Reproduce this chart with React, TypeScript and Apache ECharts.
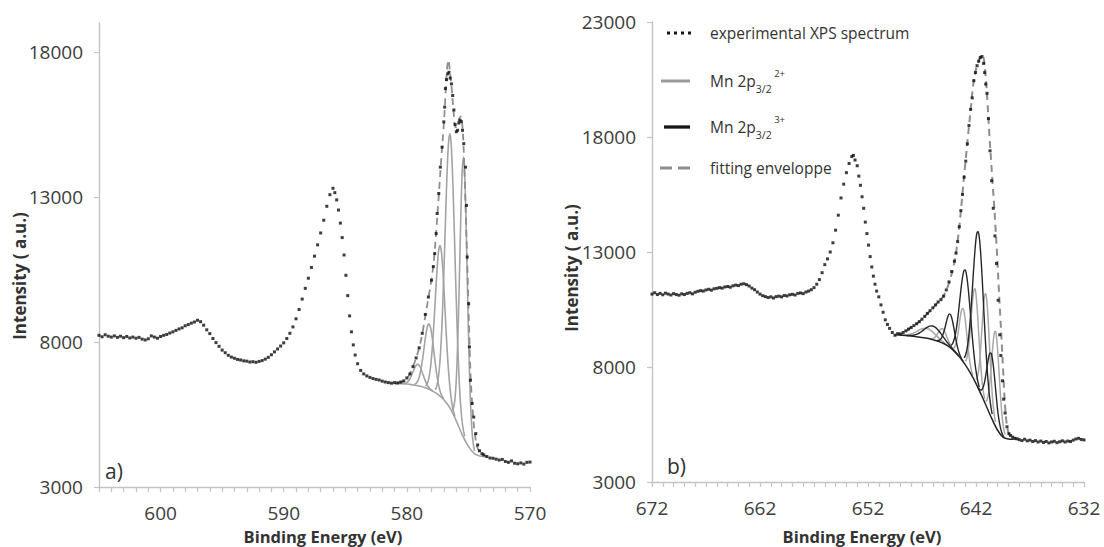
import React, { useEffect, useRef } from "react";
import * as echarts from "echarts";

type Pt = [number, number];
const FONT = "'Open Sans', 'DejaVu Sans', sans-serif";

// ---------- panel a) : Mn 2p, 605 -> 570 eV ----------
const xLabelsA = [570, 580, 590, 600];
const yLabelsA = [3000, 8000, 13000, 18000];

const specA: Pt[] = [
  [605, 8230], [604.75, 8180], [604.5, 8250], [604.25, 8200], [604, 8170], [603.75, 8210], [603.5, 8160],
  [603.25, 8200], [603, 8150], [602.75, 8190], [602.5, 8140], [602.25, 8170], [602, 8130], [601.75, 8160],
  [601.5, 8100], [601.25, 8070], [601, 8110], [600.75, 8210], [600.5, 8170], [600.25, 8130], [600, 8190],
  [599.75, 8230], [599.5, 8260], [599.25, 8310], [599, 8350], [598.75, 8400], [598.5, 8450], [598.25, 8490],
  [598, 8560], [597.75, 8600], [597.5, 8650], [597.25, 8690], [597, 8750], [596.75, 8700], [596.5, 8580],
  [596.25, 8420], [596, 8290], [595.75, 8120], [595.5, 7980], [595.25, 7850], [595, 7720], [594.75, 7630],
  [594.5, 7540], [594.25, 7480], [594, 7440], [593.75, 7400], [593.5, 7380], [593.25, 7350], [593, 7340],
  [592.75, 7310], [592.5, 7320], [592.25, 7300], [592, 7330], [591.75, 7360], [591.5, 7410], [591.25, 7470],
  [591, 7560], [590.75, 7660], [590.5, 7760], [590.25, 7860], [590, 7970], [589.75, 8120], [589.5, 8300],
  [589.25, 8520], [589, 8800], [588.75, 9120], [588.5, 9480], [588.25, 9850], [588, 10200], [587.75, 10570],
  [587.5, 10960], [587.25, 11350], [587, 11760], [586.75, 12200], [586.5, 12680], [586.25, 13080], [586, 13300],
  [585.85, 13150], [585.7, 12900], [585.55, 12550], [585.4, 12100], [585.25, 11600], [585.1, 11000],
  [584.95, 10300], [584.8, 9600], [584.65, 8900], [584.5, 8350], [584.35, 7900], [584.2, 7550], [584, 7250],
  [583.75, 7020], [583.5, 6900], [583.25, 6830], [583, 6780], [582.75, 6740], [582.5, 6710], [582.25, 6690],
  [582, 6650], [581.75, 6620], [581.5, 6600], [581.25, 6580], [581, 6600], [580.75, 6590], [580.5, 6620],
  [580.25, 6660], [580, 6760], [579.75, 6900], [579.5, 7150], [579.25, 7450], [579, 7800], [578.75, 8300],
  [578.5, 8950], [578.25, 9550], [578, 10130], [577.85, 10600], [577.74, 11050], [577.62, 11740],
  [577.54, 12430], [577.41, 13120], [577.28, 14030], [577.14, 14720], [577, 15590], [576.93, 16100],
  [576.87, 16740], [576.78, 17050], [576.68, 17250], [576.58, 17300], [576.48, 17100], [576.38, 16900],
  [576.28, 16500], [576.18, 16000], [576.08, 15500], [575.98, 15250], [575.88, 15300], [575.78, 15550],
  [575.68, 15650], [575.58, 15600], [575.48, 15300], [575.38, 14840], [575.24, 14030], [575.16, 12710],
  [575.1, 10930], [574.98, 9320], [574.92, 7830], [574.84, 6680], [574.7, 5880], [574.57, 5410], [574.4, 4840],
  [574.25, 4450], [574.1, 4250], [573.9, 4150], [573.75, 4110], [573.5, 4050], [573.25, 4000], [573, 3990],
  [572.75, 3960], [572.5, 3930], [572.25, 3950], [572, 3880], [571.75, 3850], [571.5, 3900], [571.25, 3820],
  [571, 3800], [570.75, 3830], [570.5, 3790], [570.25, 3850], [570, 3860],
];

const bgA: Pt[] = [
  [581, 6560], [580.5, 6560], [580, 6550], [579.5, 6520], [579, 6480], [578.5, 6420], [578, 6330],
  [577.5, 6200], [577, 6010], [576.5, 5730], [576, 5290], [575.5, 4800], [575, 4400], [574.5, 4140],
  [574, 4060], [573.5, 4050],
];

const compA1: Pt[] = [
  [580.3, 6564], [580.2, 6571], [580.1, 6584], [580, 6609], [579.9, 6644], [579.8, 6698], [579.7, 6772],
  [579.6, 6865], [579.5, 6969], [579.4, 7071], [579.3, 7157], [579.2, 7213], [579.1, 7228], [579, 7197],
  [578.9, 7121], [578.8, 7015], [578.7, 6893], [578.6, 6771], [578.5, 6660], [578.4, 6562], [578.3, 6484],
  [578.2, 6425], [578.1, 6380], [578, 6347], [577.9, 6312],
];
const compA2: Pt[] = [
  [579.4, 6537], [579.3, 6556], [579.2, 6595], [579.1, 6668], [579, 6786], [578.9, 6957], [578.8, 7190],
  [578.7, 7479], [578.6, 7803], [578.5, 8126], [578.4, 8396], [578.3, 8574], [578.2, 8626], [578.1, 8538],
  [578, 8324], [577.9, 8010], [577.8, 7649], [577.7, 7287], [577.6, 6960], [577.5, 6689], [577.4, 6468],
  [577.3, 6304], [577.2, 6185], [577.1, 6100], [577, 6035],
];
const compA3: Pt[] = [
  [578.5, 6478], [578.4, 6521], [578.3, 6612], [578.2, 6780], [578.1, 7052], [578, 7455], [577.9, 7992],
  [577.8, 8659], [577.7, 9406], [577.6, 10151], [577.5, 10789], [577.4, 11201], [577.3, 11324], [577.2, 11125],
  [577.1, 10637], [577, 9935], [576.9, 9108], [576.8, 8279], [576.7, 7530], [576.6, 6911], [576.5, 6434],
  [576.4, 6056], [576.3, 5782], [576.2, 5585], [576.1, 5436],
];
const compA4: Pt[] = [
  [577.7, 6357], [577.6, 6442], [577.5, 6615], [577.4, 6915], [577.3, 7404], [577.2, 8132], [577.1, 9120],
  [577, 10341], [576.9, 11691], [576.8, 13038], [576.7, 14190], [576.6, 14953], [576.5, 15190], [576.4, 14809],
  [576.3, 13902], [576.2, 12606], [576.1, 11115], [576, 9621], [575.9, 8264], [575.8, 7140], [575.7, 6276],
  [575.6, 5651], [575.5, 5215], [575.4, 4936], [575.3, 4745],
];
const compA5: Pt[] = [
  [576.3, 5661], [576.2, 5742], [576.1, 6013], [576, 6597], [575.9, 7601], [575.8, 9065], [575.7, 10855],
  [575.6, 12633], [575.5, 13938], [575.4, 14380], [575.3, 13778], [575.2, 12295], [575.1, 10339], [575, 8371],
  [574.9, 6757], [574.8, 5603], [574.7, 4879], [574.6, 4468], [574.5, 4247],
];
const envA: Pt[] = [
  [580.75, 6590], [580.5, 6610], [580.25, 6650], [580, 6740], [579.75, 6900], [579.5, 7150], [579.25, 7450],
  [579, 7800], [578.75, 8280], [578.5, 8900], [578.25, 9520], [578, 10150], [577.8, 10850], [577.6, 11900],
  [577.4, 13100], [577.2, 14350], [577, 15500], [576.85, 16600], [576.72, 17500], [576.62, 17730],
  [576.5, 17300], [576.35, 16700], [576.2, 15900], [576.05, 15400], [575.9, 15450], [575.75, 15700],
  [575.6, 15780], [575.5, 15500], [575.4, 14800], [575.3, 13600], [575.2, 12200], [575.1, 10800], [575, 9300],
  [574.9, 7800], [574.8, 6600], [574.65, 5600], [574.5, 4900], [574.3, 4400], [574.1, 4200], [573.9, 4100],
  [573.5, 4050],
];

// ---------- panel b) : 672 -> 632 eV ----------
const xLabelsB = [632, 642, 652, 662, 672];
const yLabelsB = [3000, 8000, 13000, 18000, 23000];

const specB: Pt[] = [
  [672, 11170], [671.75, 11230], [671.5, 11150], [671.25, 11200], [671, 11140], [670.75, 11210], [670.5, 11170],
  [670.25, 11130], [670, 11190], [669.75, 11150], [669.5, 11120], [669.25, 11180], [669, 11150], [668.75, 11200],
  [668.5, 11230], [668.25, 11180], [668, 11250], [667.75, 11290], [667.5, 11320], [667.25, 11300], [667, 11350],
  [666.75, 11380], [666.5, 11340], [666.25, 11400], [666, 11420], [665.75, 11450], [665.5, 11430],
  [665.25, 11480], [665, 11500], [664.75, 11470], [664.5, 11530], [664.25, 11560], [664, 11540],
  [663.75, 11600], [663.5, 11620], [663.25, 11580], [663, 11520], [662.75, 11430], [662.5, 11360],
  [662.25, 11260], [662, 11170], [661.75, 11100], [661.5, 11060], [661.25, 11020], [661, 11050],
  [660.75, 11000], [660.5, 11060], [660.25, 11080], [660, 11050], [659.75, 11110], [659.5, 11090],
  [659.25, 11140], [659, 11160], [658.75, 11130], [658.5, 11200], [658.25, 11220], [658, 11190],
  [657.75, 11260], [657.5, 11300], [657.25, 11360], [657, 11450], [656.75, 11600], [656.5, 11800],
  [656.25, 12100], [656, 12450], [655.75, 12700], [655.5, 13000], [655.25, 13400], [655, 13950],
  [654.75, 14600], [654.5, 15350], [654.25, 15950], [654, 16450], [653.75, 16850], [653.5, 17150],
  [653.35, 17200], [653.2, 17000], [653, 16750], [652.85, 16300], [652.7, 15900], [652.55, 15400],
  [652.4, 14900], [652.25, 14300], [652.1, 13800], [651.95, 13300], [651.8, 12800], [651.65, 12350],
  [651.5, 11950], [651.35, 11600], [651.2, 11300], [651, 11050], [650.8, 10700], [650.6, 10380],
  [650.4, 10050], [650.2, 9850], [650, 9680], [649.75, 9500], [649.5, 9380], [649.25, 9450], [649, 9440],
  [648.75, 9500], [648.5, 9570], [648.25, 9650], [648, 9720], [647.75, 9800], [647.5, 9880], [647.25, 9970],
  [647, 10080], [646.75, 10200], [646.5, 10330], [646.25, 10450], [646, 10570], [645.75, 10700],
  [645.5, 10830], [645.25, 10930], [645, 11080], [644.75, 11350], [644.5, 11700], [644.25, 12150],
  [644, 12600], [643.85, 12950], [643.7, 13450], [643.55, 14100], [643.4, 14800], [643.25, 15500],
  [643.1, 16250], [642.95, 16950], [642.8, 17700], [642.65, 18500], [642.5, 19200], [642.35, 19700],
  [642.2, 20450], [642.05, 20800], [641.9, 21100], [641.75, 21300], [641.6, 21450], [641.45, 21500],
  [641.3, 21200], [641.2, 20800], [641.1, 20300], [640.98, 19900], [640.85, 18800], [640.7, 17400],
  [640.55, 16100], [640.4, 14900], [640.25, 13700], [640.1, 12500], [639.95, 10900], [639.8, 9400],
  [639.7, 8500], [639.55, 7400], [639.44, 6600], [639.3, 6000], [639.13, 5400], [638.95, 5100], [638.8, 5020],
  [638.6, 4950], [638.4, 4900], [638.2, 4880], [638, 4840], [637.75, 4800], [637.5, 4860], [637.25, 4790],
  [637, 4820], [636.75, 4760], [636.5, 4800], [636.25, 4740], [636, 4780], [635.75, 4720], [635.5, 4760],
  [635.25, 4700], [635, 4740], [634.75, 4770], [634.5, 4710], [634.25, 4750], [634, 4790], [633.75, 4740],
  [633.5, 4780], [633.25, 4760], [633, 4820], [632.75, 4870], [632.5, 4900], [632.25, 4850], [632, 4830],
];

const bgB: Pt[] = [
  [649.5, 9400], [649, 9385], [648.5, 9370], [648, 9345], [647.5, 9320], [647, 9285], [646.5, 9250],
  [646, 9190], [645.5, 9120], [645, 9020], [644.5, 8880], [644, 8680], [643.5, 8420], [643, 8100],
  [642.5, 7720], [642, 7280], [641.5, 6780], [641, 6250], [640.5, 5720], [640, 5250], [639.5, 4950],
  [639, 4870], [638.5, 4860],
];

// Mn 2p3/2 2+ components (grey)
const grayB1: Pt[] = [
  [649, 9390], [648.8, 9389], [648.6, 9392], [648.4, 9399], [648.2, 9413], [648, 9438], [647.8, 9475],
  [647.6, 9522], [647.4, 9574], [647.2, 9624], [647, 9664], [646.8, 9688], [646.6, 9687], [646.4, 9655],
  [646.2, 9593], [646, 9515], [645.8, 9423], [645.6, 9331], [645.4, 9240], [645.2, 9153], [645, 9078],
  [644.8, 8998], [644.6, 8927], [644.4, 8850], [644.2, 8765],
];
const grayB2: Pt[] = [
  [646.3, 9233], [646.2, 9228], [646.1, 9229], [646, 9239], [645.9, 9260], [645.8, 9296], [645.7, 9349],
  [645.6, 9418], [645.5, 9496], [645.4, 9568], [645.3, 9627], [645.2, 9661], [645.1, 9660], [645, 9621],
  [644.9, 9539], [644.8, 9432], [644.7, 9312], [644.6, 9192], [644.5, 9081], [644.4, 8974], [644.3, 8884],
  [644.2, 8809], [644.1, 8747], [644, 8694], [643.9, 8635],
];
const grayB3: Pt[] = [
  [644.1, 8806], [644, 8849], [643.9, 8941], [643.8, 9110], [643.7, 9359], [643.6, 9678], [643.5, 10028],
  [643.4, 10326], [643.3, 10519], [643.2, 10548], [643.1, 10391], [643, 10070], [642.9, 9632], [642.8, 9154],
  [642.7, 8707], [642.6, 8330], [642.5, 8033], [642.4, 7801], [642.3, 7630],
];
const grayB4: Pt[] = [
  [643, 8248], [642.9, 8318], [642.8, 8493], [642.7, 8799], [642.6, 9247], [642.5, 9816], [642.4, 10425],
  [642.3, 10966], [642.2, 11325], [642.1, 11398], [642, 11149], [641.9, 10602], [641.8, 9873], [641.7, 9076],
  [641.6, 8331], [641.5, 7707], [641.4, 7219], [641.3, 6862], [641.2, 6610],
];
const grayB5: Pt[] = [
  [642, 7458], [641.9, 7533], [641.8, 7733], [641.7, 8093], [641.6, 8622], [641.5, 9297], [641.4, 10028],
  [641.3, 10677], [641.2, 11108], [641.1, 11196], [641, 10896], [640.9, 10253], [640.8, 9392], [640.7, 8449],
  [640.6, 7568], [640.5, 6833], [640.4, 6279], [640.3, 5885], [640.2, 5616],
];
const grayB6: Pt[] = [
  [641.1, 6507], [641, 6552], [640.9, 6700], [640.8, 6986], [640.7, 7415], [640.6, 7970], [640.5, 8575],
  [640.4, 9125], [640.3, 9487], [640.2, 9558], [640.1, 9299], [640, 8749], [639.9, 8045], [639.8, 7274],
  [639.7, 6553], [639.6, 5958], [639.5, 5506], [639.4, 5236], [639.3, 5069],
];

// Mn 2p3/2 3+ components (black)
const blackB1: Pt[] = [
  [648.4, 9372], [648.2, 9368], [648, 9371], [647.8, 9382], [647.6, 9405], [647.4, 9441], [647.2, 9491],
  [647, 9555], [646.8, 9629], [646.6, 9702], [646.4, 9759], [646.2, 9786], [646, 9780], [645.8, 9734],
  [645.6, 9655], [645.4, 9545], [645.2, 9418], [645, 9290], [644.8, 9156], [644.6, 9036], [644.4, 8920],
  [644.2, 8807], [644, 8706], [643.8, 8589], [643.6, 8479],
];
const blackB2: Pt[] = [
  [645.6, 9150], [645.5, 9153], [645.4, 9164], [645.3, 9196], [645.2, 9258], [645.1, 9356], [645, 9494],
  [644.9, 9660], [644.8, 9849], [644.7, 10038], [644.6, 10196], [644.5, 10295], [644.4, 10300], [644.3, 10215],
  [644.2, 10048], [644.1, 9822], [644, 9565], [643.9, 9296], [643.8, 9050], [643.7, 8840], [643.6, 8670],
  [643.5, 8536], [643.4, 8420], [643.3, 8325], [643.2, 8244],
];
const blackB3: Pt[] = [
  [644.3, 8940], [644.2, 8991], [644.1, 9086], [644, 9237], [643.9, 9443], [643.8, 9721], [643.7, 10070],
  [643.6, 10478], [643.5, 10919], [643.4, 11348], [643.3, 11733], [643.2, 12031], [643.1, 12202], [643, 12220],
  [642.9, 12062], [642.8, 11751], [642.7, 11313], [642.6, 10788], [642.5, 10219], [642.4, 9638], [642.3, 9090],
  [642.2, 8601], [642.1, 8183], [642, 7837], [641.9, 7546], [641.8, 7311], [641.7, 7120],
];
const blackB4: Pt[] = [
  [643.1, 8395], [643, 8481], [642.9, 8629], [642.8, 8868], [642.7, 9218], [642.6, 9686], [642.5, 10272],
  [642.4, 10942], [642.3, 11668], [642.2, 12393], [642.1, 13048], [642, 13557], [641.9, 13845], [641.8, 13880],
  [641.7, 13645], [641.6, 13157], [641.5, 12460], [641.4, 11611], [641.3, 10692], [641.2, 9772], [641.1, 8908],
  [641, 8140], [640.9, 7490], [640.8, 6958], [640.7, 6537], [640.6, 6207], [640.5, 5951],
];
const blackB5: Pt[] = [
  [641.8, 7111], [641.7, 7043], [641.6, 7002], [641.5, 7000], [641.4, 7049], [641.3, 7167], [641.2, 7361],
  [641.1, 7624], [641, 7930], [640.9, 8235], [640.8, 8483], [640.7, 8616], [640.6, 8596], [640.5, 8404],
  [640.4, 8071], [640.3, 7623], [640.2, 7118], [640.1, 6612], [640, 6149], [639.9, 5789], [639.8, 5505],
  [639.7, 5290], [639.6, 5132], [639.5, 5013], [639.4, 4965],
];
const envB: Pt[] = [
  [649.5, 9400], [649, 9420], [648.5, 9550], [648, 9720], [647.5, 9880], [647, 10080], [646.5, 10320],
  [646, 10560], [645.5, 10820], [645, 11100], [644.5, 11650], [644, 12550], [643.75, 13300], [643.5, 14300],
  [643.25, 15550], [643, 16800], [642.75, 18000], [642.5, 19150], [642.25, 20300], [642, 20950],
  [641.75, 21300], [641.5, 21570], [641.3, 21450], [641.1, 20600], [640.95, 19600], [640.75, 18000],
  [640.6, 16950], [640.45, 15900], [640.3, 14900], [640.2, 14100], [640.05, 12900], [639.9, 11500],
  [639.75, 10200], [639.6, 8900], [639.45, 7500], [639.35, 6600], [639.2, 5700], [639, 5150], [638.7, 4930],
  [638.3, 4860],
];

const legendTexts = ["experimental XPS spectrum", "Mn 2p", "3/2", "2+", "3+", "fitting enveloppe"];

export default function App() {
  const ref = useRef<HTMLDivElement>(null);

  useEffect(() => {
    if (!ref.current) return;
    const chart = echarts.init(ref.current, null, { renderer: "svg" });
    const axisColor = "#c4c4c4";
    const labelColor = "#3c3c3c";

    const xAxis = (gi: number, min: number, max: number, labels: number[]) => ({
      type: "value",
      gridIndex: gi,
      min,
      max,
      interval: 1,
      inverse: true,
      axisLine: { show: true, onZero: false, lineStyle: { color: axisColor, width: 1.4 } },
      axisTick: { show: true, length: 5, lineStyle: { color: axisColor, width: 1.2 } },
      axisLabel: {
        formatter: (v: number) => (labels.indexOf(Math.round(v)) >= 0 ? String(Math.round(v)) : ""),
        fontSize: 19,
        color: labelColor,
        fontFamily: FONT,
        margin: 16,
      },
      splitLine: { show: false },
    });
    const yAxis = (gi: number, min: number, max: number, labels: number[]) => ({
      type: "value",
      gridIndex: gi,
      min,
      max,
      interval: 5000,
      axisLine: { show: true, onZero: false, lineStyle: { color: axisColor, width: 1.4 } },
      axisTick: { show: true, length: 5, customValues: labels, lineStyle: { color: axisColor, width: 1.2 } },
      axisLabel: {
        customValues: labels,
        formatter: (v: number) => (labels.indexOf(v) >= 0 ? String(v) : ""),
        fontSize: 19,
        color: labelColor,
        fontFamily: FONT,
        margin: 16,
      },
      splitLine: { show: false },
    });

    const line = (gi: number, data: Pt[], color: string, width: number, z = 2, dash?: number[]) => ({
      type: "line",
      xAxisIndex: gi,
      yAxisIndex: gi,
      data,
      smooth: 0.35,
      symbol: "none",
      silent: true,
      z,
      lineStyle: { color, width, type: dash ? dash : "solid" },
    });
    const dots = (gi: number, data: Pt[]) => ({
      type: "scatter",
      xAxisIndex: gi,
      yAxisIndex: gi,
      data,
      symbol: "rect",
      symbolSize: 3,
      silent: true,
      z: 6,
      itemStyle: { color: "#0d0d0d" },
    });

    const grayA = "#a3a3a3";
    const grayB = "#a8a8a8";
    const blackB = "#262626";
    const envColor = "#8e8e8e";

    const lx = 710;
    const rows = [33, 81, 127, 168];
    const richMn = (sup: string) => ({
      type: "text",
      x: lx,
      y: 0,
      style: {
        text: `{m|${legendTexts[1]}}{sub|${legendTexts[2]}}{sup| ${sup}}`,
        verticalAlign: "middle",
        rich: {
          m: { fontSize: 15.5, lineHeight: 26, fontFamily: FONT, fill: "#333" },
          sub: { fontSize: 10.5, lineHeight: 16, verticalAlign: "bottom", fontFamily: FONT, fill: "#333" },
          sup: { fontSize: 9.5, lineHeight: 21, verticalAlign: "top", fontFamily: FONT, fill: "#333" },
        },
      },
    });

    const titleStyle = { fontSize: 16.5, fontWeight: "bold", fontFamily: FONT, fill: "#333", align: "center", verticalAlign: "middle" };

    const option: any = {
      animation: false,
      textStyle: { fontFamily: FONT },
      grid: [
        { left: 99, top: 23, width: 431, height: 464 },
        { left: 652, top: 22, width: 432, height: 460 },
      ],
      xAxis: [xAxis(0, 570, 605, xLabelsA), xAxis(1, 632, 672, xLabelsB)],
      yAxis: [yAxis(0, 3000, 19000, yLabelsA), yAxis(1, 3000, 23000, yLabelsB)],
      series: [
        line(0, bgA, grayA, 1.6),
        line(0, compA1, grayA, 1.6),
        line(0, compA2, grayA, 1.6),
        line(0, compA3, grayA, 1.6),
        line(0, compA4, grayA, 1.6),
        line(0, compA5, grayA, 1.6),
        line(0, envA, envColor, 1.8, 4, [7, 5]),
        dots(0, specA),

        line(1, grayB1, grayB, 1.5),
        line(1, grayB2, grayB, 1.5),
        line(1, grayB3, grayB, 1.5),
        line(1, grayB4, grayB, 1.5),
        line(1, grayB5, grayB, 1.5),
        line(1, grayB6, grayB, 1.5),
        line(1, bgB, blackB, 1.5, 3),
        line(1, blackB1, blackB, 1.4, 3),
        line(1, blackB2, blackB, 1.4, 3),
        line(1, blackB3, blackB, 1.4, 3),
        line(1, blackB4, blackB, 1.4, 3),
        line(1, blackB5, blackB, 1.4, 3),
        line(1, envB, envColor, 2, 4, [7, 5]),
        dots(1, specB),
      ],
      graphic: [
        { type: "text", x: 105, y: 471, style: { text: "a)", fontSize: 21, fontFamily: FONT, fill: "#333", verticalAlign: "middle" } },
        { type: "text", x: 667, y: 466, style: { text: "b)", fontSize: 21, fontFamily: FONT, fill: "#333", verticalAlign: "middle" } },
        { type: "text", x: 323, y: 536, style: { text: "Binding Energy (eV)", ...titleStyle } },
        { type: "text", x: 862, y: 536, style: { text: "Binding Energy (eV)", ...titleStyle } },
        { type: "text", x: 19, y: 276, rotation: Math.PI / 2, style: { text: "Intensity ( a.u.)", ...titleStyle, fontSize: 17 } },
        { type: "text", x: 571, y: 268, rotation: Math.PI / 2, style: { text: "Intensity ( a.u.)", ...titleStyle, fontSize: 17 } },
        // legend
        { type: "line", shape: { x1: 667, y1: rows[0], x2: 691, y2: rows[0] }, style: { stroke: "#151515", lineWidth: 3, lineDash: [3, 4] } },
        { type: "text", x: lx, y: rows[0], style: { text: legendTexts[0], fontSize: 15.5, fontFamily: FONT, fill: "#333", verticalAlign: "middle" } },
        { type: "line", shape: { x1: 661, y1: rows[1], x2: 690, y2: rows[1] }, style: { stroke: "#9a9a9a", lineWidth: 3 } },
        { ...richMn(legendTexts[3]), y: rows[1] },
        { type: "line", shape: { x1: 664, y1: rows[2], x2: 690, y2: rows[2] }, style: { stroke: "#151515", lineWidth: 3.3 } },
        { ...richMn(legendTexts[4]), y: rows[2] },
        { type: "line", shape: { x1: 660, y1: rows[3], x2: 690, y2: rows[3] }, style: { stroke: "#8e8e8e", lineWidth: 3, lineDash: [12, 6] } },
        { type: "text", x: lx, y: rows[3], style: { text: legendTexts[5], fontSize: 15.5, fontFamily: FONT, fill: "#333", verticalAlign: "middle" } },
      ],
    };

    chart.setOption(option);
    return () => chart.dispose();
  }, []);

  return <div ref={ref} style={{ position: "absolute", left: 0, top: 0, width: 1104, height: 547 }} />;
}
